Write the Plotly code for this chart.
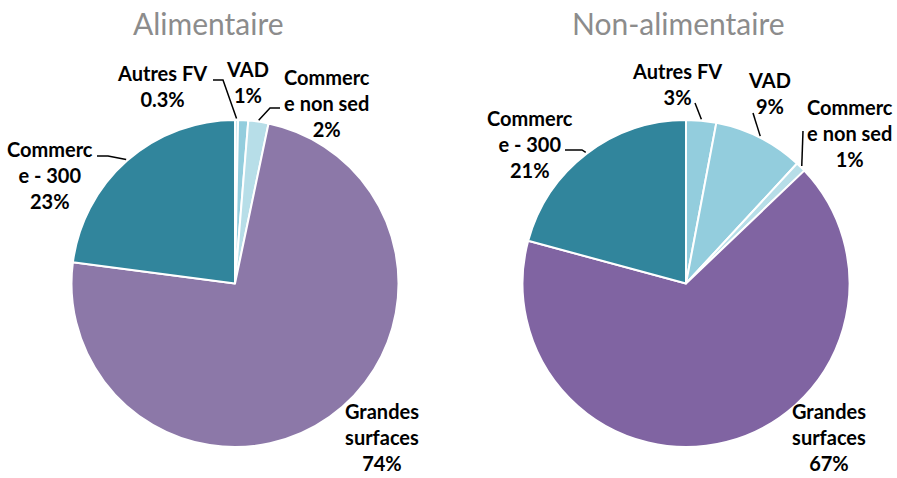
import math
import plotly.graph_objects as go

# Categories and shares (%) for each retail channel
categories = ["Autres FV", "VAD", "Commerce non sed", "Grandes surfaces", "Commerce - 300"]
label_text = ["Autres FV", "VAD", "Commerc<br>e non sed", "Grandes<br>surfaces", "Commerc<br>e - 300"]
alim_values = [0.3, 1, 2, 74, 23]
alim_labels = ["0.3%", "1%", "2%", "74%", "23%"]
nonalim_values = [3, 9, 1, 67, 21]
nonalim_labels = ["3%", "9%", "1%", "67%", "21%"]
titles = ["Alimentaire", "Non-alimentaire"]

alim_colors = ["#C9E6EF", "#93CDDD", "#B7DEE8", "#8C78A8", "#31859C"]
nonalim_colors = ["#93CDDD", "#93CDDD", "#B7DEE8", "#8064A2", "#31859C"]

W, H = 897, 478
R = 163.5
CY = 283.5
centers = [235.0, 686.0]
title_x = [208, 678]

FONT = "Lato"

fig = go.Figure()

# Pixel-unit overlay axes for labels and leader lines
fig.update_layout(
    xaxis=dict(range=[0, W], visible=False, fixedrange=True),
    yaxis=dict(range=[H, 0], visible=False, fixedrange=True),
)


def add_pie(cx, values, colors, name):
    fig.add_trace(go.Pie(
        labels=categories,
        values=values,
        sort=False,
        direction="clockwise",
        rotation=0,
        textinfo="none",
        marker=dict(colors=colors, line=dict(color="white", width=2)),
        domain=dict(x=[(cx - R) / W, (cx + R) / W],
                    y=[1 - (CY + R) / H, 1 - (CY - R) / H]),
        showlegend=False,
        name=name,
    ))


add_pie(centers[0], alim_values, alim_colors, titles[0])
add_pie(centers[1], nonalim_values, nonalim_colors, titles[1])


def edge_point(cx, values, i, extra=1.0):
    total = sum(values)
    mid = (sum(values[:i]) + values[i] / 2) / total
    ang = 2 * math.pi * mid
    return cx + (R + extra) * math.sin(ang), CY - (R + extra) * math.cos(ang)


# Label placement (pixel positions) and leader-line elbows per chart
label_pos = [
    [(162, 86), (247, 82), (327, 103), (382, 437), (50, 175)],
    [(677, 84), (769, 93), (850, 133), (829, 437), (530, 144)],
]
leaders = [
    {0: [(213, 80), (223, 80)], 2: [(280, 108), (270, 108)], 4: [(97, 156), (108, 156)]},
    {0: [(695, 103)], 1: [(753, 113)], 2: [(803, 131)], 4: [(565, 150), (582, 150)]},
]

for k, (cx, values, pcts) in enumerate([
        (centers[0], alim_values, alim_labels),
        (centers[1], nonalim_values, nonalim_labels)]):
    for i in range(len(categories)):
        x, y = label_pos[k][i]
        fig.add_annotation(
            x=x, y=y, xref="x", yref="y",
            text=f"<b>{label_text[i]}<br>{pcts[i]}</b>",
            showarrow=False, xanchor="center", yanchor="middle",
            borderpad=0,
            font=dict(family=FONT, size=20, color="#000000"),
        )
        if i in leaders[k]:
            pts = leaders[k][i] + [edge_point(cx, values, i, extra=1.5)]
            path = "M " + " L ".join(f"{px},{py}" for px, py in pts)
            fig.add_shape(type="path", path=path, xref="x", yref="y",
                          line=dict(color="#000000", width=1.5))
    fig.add_annotation(
        x=title_x[k], y=23, xref="x", yref="y", text=titles[k], showarrow=False,
        xanchor="center", yanchor="middle",
        font=dict(family=FONT, size=30, color="#8C8C8C"),
    )

fig.update_layout(
    width=W, height=H,
    margin=dict(l=0, r=0, t=0, b=0),
    paper_bgcolor="white", plot_bgcolor="white",
)

fig.write_html("out.html", config={"displayModeBar": False})
